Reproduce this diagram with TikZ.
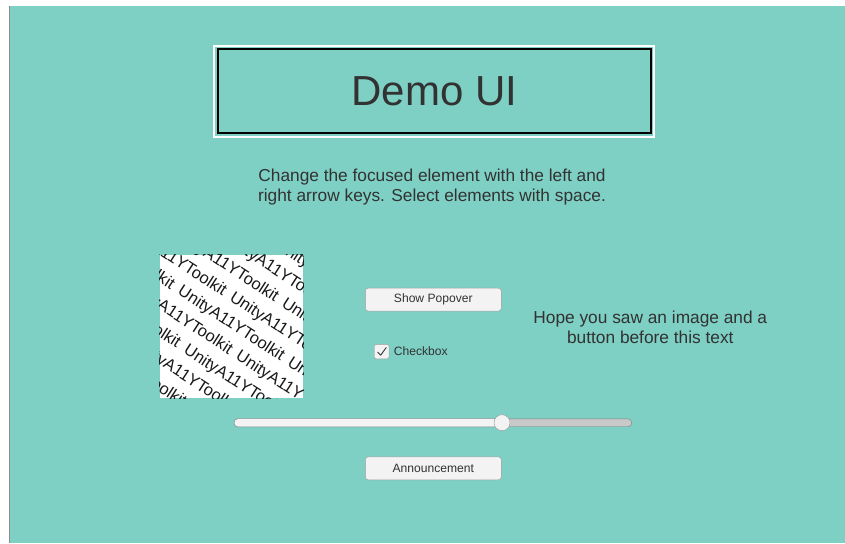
\documentclass[tikz,border=0pt]{standalone}
\usepackage{fontspec}
\setmainfont{Liberation Sans}
\definecolor{bgteal}{HTML}{7ECFC4}
\definecolor{txt}{HTML}{323232}
\definecolor{btnfill}{HTML}{F3F3F3}
\definecolor{btnline}{HTML}{9C9C9C}
\definecolor{trackgray}{HTML}{C9C9C9}
\tikzset{
  bodytext/.style={text=txt, align=center, inner sep=0pt, font=\fontsize{17.3}{20}\selectfont},
  uibutton/.style={draw=btnline, fill=btnfill, rounded corners=3pt, minimum width=136pt, minimum height=23pt, inner sep=0pt, text=txt, font=\fontsize{12.1}{14}\selectfont},
  smalltext/.style={text=txt, inner sep=0pt, font=\fontsize{12.1}{14}\selectfont},
  patterntext/.style={rotate=-33, anchor=base west, inner sep=0pt, text=black!90, font=\fontsize{16.5}{16.5}\selectfont}
}
\begin{document}
\begin{tikzpicture}[x=1pt,y=-1pt]
\useasboundingbox (0,0) rectangle (845,543);
\fill[white] (0,0) rectangle (845,543);
\fill[bgteal] (9,6) rectangle (845,543);
\draw[black!45, line width=1pt] (9.5,6) -- (9.5,543);

% title
\node[draw=black, line width=2pt, minimum width=433pt, minimum height=84pt, inner sep=0pt,
      text=txt, font=\fontsize{42}{42}\selectfont] (title) at (434.2,91.3) {Demo UI};
\draw[white, line width=1.5pt] ([shift={(-2.5,-2.5)}]title.north west) rectangle ([shift={(2.5,2.5)}]title.south east);

% instructions
\node[bodytext] (instr) at (432,187.5) {Change the focused element with the left and\\right arrow keys. Select elements with space.};

% image
\node[fill=white, minimum size=143pt, inner sep=0pt] (img) at (231.5,326.5) {};
\begin{scope}
  \clip (img.south west) rectangle (img.north east);
  \foreach \k in {0,...,10} {
    \pgfmathsetmacro\nn{35+23*\k}
    \pgfmathsetmacro\lo{max((160+0.545*(\nn-6))/0.839,(255-0.839*(\nn-6))/0.545)-12}
    \pgfmathsetmacro\hi{min((303+0.545*(\nn-6))/0.839,(398-0.839*(\nn-6))/0.545)+12}
    \pgfmathsetmacro\off{mod(47*\k,131)}
    \foreach \j in {0,...,5} {
      \pgfmathsetmacro\ts{150-\off+131*\j}
      \pgfmathtruncatemacro\ok{and(\ts<\hi,\ts+127>\lo)}
      \ifnum\ok=1
        \node[patterntext] (pat\k-\j) at ({\nn*(-0.545)+\ts*0.839},{\nn*0.839+\ts*0.545}) {UnityA11YToolkit};
      \fi
    }
  }
\end{scope}

% buttons
\node[uibutton] (popover) at (433.3,299.6) {Show Popover};
\node[uibutton] (announce) at (433.3,468.3) {Announcement};

% checkbox
\node[draw=btnline, fill=btnfill, rounded corners=2pt, minimum size=14.5pt, inner sep=0pt] (cb) at (381.7,351.6) {};
\draw[txt, line width=0.9pt, line join=round, line cap=round]
  ([shift={(-4,0.5)}]cb.center) -- ([shift={(-1,3.5)}]cb.center) -- ([shift={(4.5,-4)}]cb.center);
\node[smalltext, anchor=west] (cblabel) at ([xshift=4.5pt]cb.east) {Checkbox};

% hope text
\node[bodytext] (hope) at (650.3,327) {Hope you saw an image and a\\button before this text};

% slider
\node[draw=black!50, fill=trackgray, rounded corners=3.8pt, minimum width=397.5pt, minimum height=7.8pt, inner sep=0pt] (track) at (433,422.8) {};
\coordinate (knobpos) at (502,422.7);
\draw[draw=black!50, fill=btnfill, rounded corners=3.8pt] (track.north west) rectangle (knobpos |- track.south);
\node[circle, draw=black!40, fill=btnfill, minimum size=16pt, inner sep=0pt] (knob) at (knobpos) {};
\end{tikzpicture}
\end{document}
